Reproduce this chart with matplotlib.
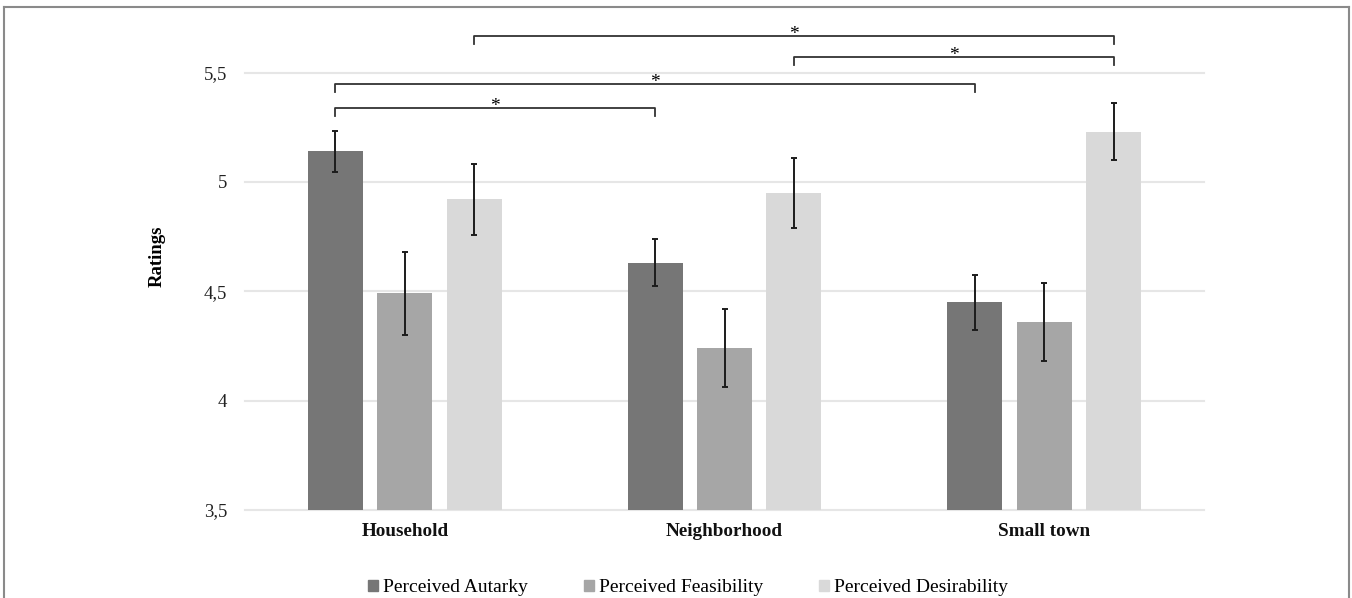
import numpy as np
import matplotlib
matplotlib.use("Agg")
import matplotlib.pyplot as plt
from matplotlib.lines import Line2D
from matplotlib.patches import Patch

# Daten
groups = ["Household", "Neighborhood", "Small town"]
series = ["Perceived Autarky", "Perceived Feasibility", "Perceived Desirability"]
autarky = [5.14, 4.63, 4.45]
feasibility = [4.49, 4.24, 4.36]
desirability = [4.92, 4.95, 5.23]
autarky_err = [0.093, 0.107, 0.125]
feasibility_err = [0.189, 0.178, 0.18]
desirability_err = [0.164, 0.161, 0.13]
y_ticks = [3.5, 4.0, 4.5, 5.0, 5.5]
y_tick_labels = ["3,5", "4", "4,5", "5", "5,5"]

# Signifikanz-Klammern: (gruppe_a, serie_a, gruppe_b, serie_b, hoehe)
brackets = [
    (0, 0, 1, 0, 5.339),
    (0, 0, 2, 0, 5.448),
    (1, 2, 2, 2, 5.572),
    (0, 2, 2, 2, 5.668),
]

values = [autarky, feasibility, desirability]
errors = [autarky_err, feasibility_err, desirability_err]
colors = ["#767676", "#a6a6a6", "#d9d9d9"]

plt.rcParams["font.family"] = ["Liberation Serif", "DejaVu Serif"]

W, H = 1352, 598
fig = plt.figure(figsize=(W / 100, H / 100), dpi=100)
ax = fig.add_axes([245 / W, 1 - 510 / H, (1204 - 245) / W, (510 - 72.5) / H])

x = np.arange(len(groups))
step = 0.217
width = 0.172
offsets = [-step, 0.0, step]

for vals, errs, col, off, name in zip(values, errors, colors, offsets, series):
    ax.bar(x + off, vals, width=width, bottom=0, color=col, label=name,
           zorder=2)
    ax.errorbar(x + off, vals, yerr=errs, fmt="none", ecolor="#1c1c1c",
                elinewidth=1.4, capsize=2.2, capthick=1.4, zorder=3)

ax.set_xlim(-0.5, 2.5)
ax.set_ylim(3.5, 5.5)
ax.set_yticks(y_ticks)
ax.set_yticklabels(y_tick_labels)
ax.set_xticks(x)
ax.set_xticklabels(groups, fontweight="bold")
ax.tick_params(axis="y", length=0, pad=13, labelsize=13.5, colors="#222222")
ax.tick_params(axis="x", length=0, pad=9, labelsize=13.8, colors="#111111")
for s in ax.spines.values():
    s.set_visible(False)
ax.grid(axis="y", color="#e6e6e6", linewidth=1.5)
ax.set_axisbelow(True)
for gl in ax.get_ygridlines():
    gl.set_clip_on(False)

# Klammern
leg = 0.039
for ga, sa, gb, sb, yb in brackets:
    xa = x[ga] + offsets[sa]
    xb = x[gb] + offsets[sb]
    ax.plot([xa, xa, xb, xb], [yb - leg, yb, yb, yb - leg], color="#333333",
            linewidth=1.3, clip_on=False, zorder=4)
    ax.annotate("*", xy=((xa + xb) / 2, yb), xytext=(0, 1.2),
                textcoords="offset points", ha="center", va="center",
                fontsize=14, annotation_clip=False)

fig.text(157 / W, 1 - 256 / H, "Ratings", rotation=90, ha="center",
         va="center", fontsize=13.5, fontweight="bold")

handles = [Patch(color=c, label=n) for c, n in zip(colors, series)]
fig.legend(handles=handles, loc="center", ncol=3, frameon=False,
           fontsize=14, handlelength=0.55, handleheight=0.55,
           handletextpad=0.25, columnspacing=2.85,
           bbox_to_anchor=(688 / W, 1 - 588 / H))

# Rahmen
bc = "#8a8a8a"
fig.add_artist(Line2D([3.5 / W, 3.5 / W], [0, 1 - 7 / H], color=bc, lw=1.5))
fig.add_artist(Line2D([3.5 / W, 1349 / W], [1 - 7 / H, 1 - 7 / H], color=bc, lw=1.5))
fig.add_artist(Line2D([1349 / W, 1349 / W], [0, 1 - 7 / H], color=bc, lw=1.5))

fig.savefig("out.png", dpi=100)
plt.close()
